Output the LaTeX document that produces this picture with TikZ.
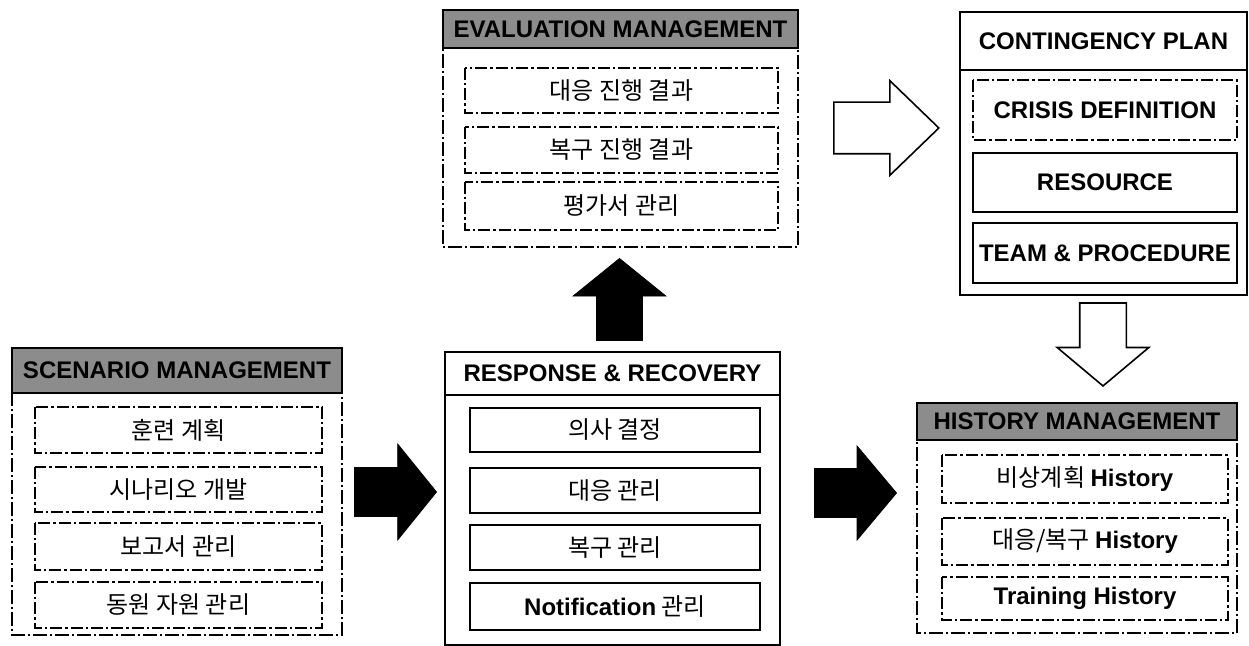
\documentclass[tikz,border=0pt]{standalone}
\usepackage{fontspec}
\setmainfont{Liberation Sans}
\newfontfamily\kr{Noto Sans CJK KR}
\usetikzlibrary{shapes.arrows}
\tikzset{
  outerbox/.style={draw, line width=0.7pt, dash pattern=on 7pt off 1.5pt on 1pt off 1.5pt},
  innerbox/.style={draw, line width=0.6pt, dash pattern=on 6pt off 1.5pt on 1.2pt off 1.5pt},
  solidbox/.style={draw, line width=0.8pt},
  headbar/.style={fill=black!45, draw=black, line width=0.8pt},
  headtext/.style={font=\bfseries\fontsize{12}{14}\selectfont},
  itemtext/.style={font=\kr\fontsize{12}{14}\selectfont},
  blackarrow/.style={single arrow, fill=black, draw=black, anchor=tip},
  whitearrow/.style={single arrow, fill=white, draw=black, line width=0.8pt, anchor=tip},
}

\begin{document}
\begin{tikzpicture}[x=0.5pt, y=-0.5pt]
\useasboundingbox (0,0) rectangle (1249,646);

\draw[outerbox] (12,348) rectangle (342,635);
\draw[headbar] (12,348) rectangle (342,393);
\node[headtext] (scenhead) at (177,370.5) {SCENARIO MANAGEMENT};
\draw[innerbox] (35,407) rectangle (322,453);
\node[itemtext] (scen1) at (178.5,430) {훈련 계획};
\draw[innerbox] (35,467) rectangle (322,512);
\node[itemtext] (scen2) at (178.5,489.5) {시나리오 개발};
\draw[innerbox] (35,523) rectangle (322,570);
\node[itemtext] (scen3) at (178.5,546.5) {보고서 관리};
\draw[innerbox] (35,582) rectangle (322,628);
\node[itemtext] (scen4) at (178.5,605) {동원 자원 관리};

\draw[outerbox] (443,10) rectangle (798,247);
\draw[headbar] (443,10) rectangle (798,48);
\node[headtext] (evalhead) at (620.5,29) {EVALUATION MANAGEMENT};
\draw[innerbox] (465,68) rectangle (778,113);
\node[itemtext] (eval1) at (621.5,90.5) {대응 진행 결과};
\draw[innerbox] (465,127) rectangle (778,173);
\node[itemtext] (eval2) at (621.5,150) {복구 진행 결과};
\draw[innerbox] (465,182) rectangle (778,230);
\node[itemtext] (eval3) at (621.5,206) {평가서 관리};

\draw[solidbox] (960,12) rectangle (1247,295);
\draw[solidbox] (960,70) -- (1247,70);
\node[headtext] (planhead) at (1103.5,41) {CONTINGENCY PLAN};
\draw[innerbox] (973,80) rectangle (1237,140);
\node[headtext] (plan1) at (1105,110) {CRISIS DEFINITION};
\draw[solidbox] (973,153) rectangle (1237,212);
\node[headtext] (plan2) at (1105,182.5) {RESOURCE};
\draw[solidbox] (973,223) rectangle (1237,283);
\node[headtext] (plan3) at (1105,253) {TEAM \& PROCEDURE};

\draw[solidbox] (445,352) rectangle (780,645);
\draw[solidbox] (445,395) -- (780,395);
\node[headtext] (resphead) at (612.5,373.5) {RESPONSE \& RECOVERY};
\draw[solidbox] (470,408) rectangle (760,452);
\node[itemtext] (resp1) at (615,430) {의사 결정};
\draw[solidbox] (470,468) rectangle (760,513);
\node[itemtext] (resp2) at (615,490.5) {대응 관리};
\draw[solidbox] (470,525) rectangle (760,570);
\node[itemtext] (resp3) at (615,547.5) {복구 관리};
\draw[solidbox] (470,583) rectangle (760,630);
\node[itemtext] (resp4) at (615,606.5) {{\rmfamily\bfseries Notification} 관리};

\draw[outerbox] (917,403) rectangle (1237,633);
\draw[headbar] (917,403) rectangle (1237,440);
\node[headtext] (histhead) at (1077,421.5) {HISTORY MANAGEMENT};
\draw[innerbox] (942,455) rectangle (1228,503);
\node[itemtext] (hist1) at (1085,479) {비상계획 {\rmfamily\bfseries History}};
\draw[innerbox] (942,518) rectangle (1228,565);
\node[itemtext] (hist2) at (1085,541.5) {대응/복구 {\rmfamily\bfseries History}};
\draw[innerbox] (942,577) rectangle (1228,620);
\node[headtext] (hist3) at (1085,598.5) {Training History};

\node[blackarrow, inner xsep=0pt, inner ysep=12pt, minimum height=41pt, minimum width=47.5pt, single arrow head extend=11.75pt, single arrow tip angle=102] (toresp) at (437,492) {};
\node[blackarrow, inner xsep=0pt, inner ysep=12pt, minimum height=41pt, minimum width=46.5pt, single arrow head extend=11.25pt, single arrow tip angle=100] (tohist) at (897,493) {};
\node[blackarrow, shape border rotate=90, inner sep=11.25pt, minimum height=41pt, minimum width=46pt, single arrow head extend=11.75pt, single arrow tip angle=102] (toeval) at (619.5,258) {};
\node[whitearrow, inner xsep=0pt, inner ysep=12.5pt, minimum height=52.5pt, minimum width=46.5pt, single arrow head extend=10.75pt, single arrow tip angle=88] (toplan) at (940,128) {};
\node[whitearrow, shape border rotate=270, inner sep=11.25pt, minimum height=41.5pt, minimum width=45pt, single arrow head extend=11.25pt, single arrow tip angle=100] (tohistory) at (1103,387) {};
\end{tikzpicture}
\end{document}
